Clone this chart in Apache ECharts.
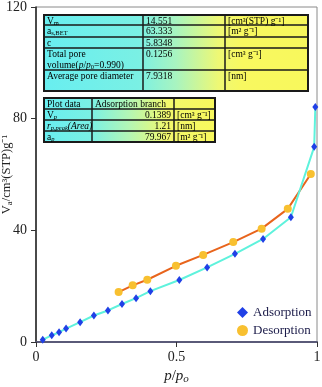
<!DOCTYPE html>
<html>
<head>
<meta charset="utf-8">
<script src="https://cdn.jsdelivr.net/npm/echarts@6/dist/echarts.min.js"></script>
<style>
  html, body { margin: 0; padding: 0; background: #fff; }
  #main { width: 322px; height: 387px; }
</style>
</head>
<body>
<div id="main"></div>
<script>
// isotherm data
var adsX = [0.024, 0.056, 0.082, 0.107, 0.157, 0.206, 0.256, 0.306, 0.356, 0.407, 0.510, 0.609, 0.708, 0.808, 0.907, 0.990, 0.994];
var adsY = [0.85, 2.4, 3.5, 4.8, 7.1, 9.5, 11.3, 13.6, 15.7, 18.2, 22.2, 26.7, 31.6, 36.9, 44.7, 69.9, 84.2];
var desX = [0.294, 0.344, 0.396, 0.498, 0.595, 0.702, 0.803, 0.896, 0.978];
var desY = [17.9, 20.3, 22.3, 27.3, 31.2, 35.8, 40.6, 47.7, 60.2];

// table contents
var betLabels = ['V{s|m}', 'a{s|s,BET}', 'c', 'Total pore\nvolume({i|p}/{i|p}{s|0}=0.990)', 'Average pore diameter'];
var betValues = ['14.551', '63.333', '5.8348', '0.1256', '7.9318'];
var betUnits = ['[cm³(STP) g⁻¹]', '[m² g⁻¹]', '', '[cm³ g⁻¹]', '[nm]'];

var plotLabels = ['Plot data', 'V{si|p}', '{i|r}{si|p,peak}{i|(Area)}', 'a{si|p}'];
var plotValues = ['Adsorption branch', '0.1389', '1.21', '79.967'];
var plotUnits = ['', '[cm³ g⁻¹]', '[nm]', '[m² g⁻¹]'];

var FONT = '"Liberation Serif", "Times New Roman", serif';

function pairs(xs, ys) {
  return xs.map(function (x, i) { return [x, ys[i]]; });
}

var cellRich = {
  s: { fontSize: 6.5, fontFamily: FONT, verticalAlign: 'bottom', lineHeight: 6, fill: '#000' },
  si: { fontSize: 6.5, fontFamily: FONT, fontStyle: 'italic', verticalAlign: 'bottom', lineHeight: 6, fill: '#000' },
  i: { fontSize: 9.5, fontFamily: FONT, fontStyle: 'italic', lineHeight: 11, fill: '#000' }
};

function makeTable(colX, rowY, cols, stops, rightAlignCol) {
  var kids = [];
  var x0 = colX[0], x1 = colX[colX.length - 1];
  var y0 = rowY[0], y1 = rowY[rowY.length - 1];
  kids.push({
    type: 'rect',
    shape: { x: x0, y: y0, width: x1 - x0, height: y1 - y0 },
    style: {
      fill: { type: 'linear', x: 0, y: 0, x2: 1, y2: 0, colorStops: stops },
      stroke: '#1a1a1a', lineWidth: 2
    }
  });
  for (var r = 1; r < rowY.length - 1; r++) {
    kids.push({ type: 'line', shape: { x1: x0, y1: rowY[r], x2: x1, y2: rowY[r] }, style: { stroke: '#1a1a1a', lineWidth: 1.5 } });
  }
  for (var c = 1; c < colX.length - 1; c++) {
    kids.push({ type: 'line', shape: { x1: colX[c], y1: y0, x2: colX[c], y2: y1 }, style: { stroke: '#1a1a1a', lineWidth: 1.5 } });
  }
  cols.forEach(function (col, ci) {
    col.forEach(function (txt, ri) {
      if (!txt) return;
      var right = rightAlignCol === ci && ri > 0;
      kids.push({
        type: 'text',
        x: right ? colX[ci + 1] - 3 : colX[ci] + 3,
        y: rowY[ri] + 0.5,
        style: {
          text: txt,
          align: right ? 'right' : 'left',
          verticalAlign: 'top',
          fontSize: 9.5,
          fontFamily: FONT,
          lineHeight: 11,
          fill: '#000',
          rich: cellRich
        }
      });
    });
  });
  return { type: 'group', children: kids, z: 10 };
}

var table1 = makeTable(
  [44, 143, 225, 308],
  [15, 25, 37, 48, 70, 91],
  [betLabels, betValues, betUnits],
  [
    { offset: 0, color: '#68eef0' }, { offset: 0.36, color: '#7af0e4' },
    { offset: 0.5, color: '#a8f4c0' }, { offset: 0.66, color: '#eef874' },
    { offset: 0.75, color: '#f8f860' }, { offset: 1, color: '#f8f85c' }
  ],
  -1
);

var table2 = makeTable(
  [44, 92, 174, 215],
  [98, 109, 120, 131, 142],
  [plotLabels, plotValues, plotUnits],
  [
    { offset: 0, color: '#68eef0' }, { offset: 0.28, color: '#7af0e4' },
    { offset: 0.5, color: '#b4f6b4' }, { offset: 0.72, color: '#f2f86c' },
    { offset: 1, color: '#f8f85c' }
  ],
  1
);

var chart = echarts.init(document.getElementById('main'));
chart.setOption({
  animation: false,
  textStyle: { fontFamily: FONT },
  grid: {
    left: 36, right: 5, top: 7, bottom: 45,
    outerBoundsMode: 'none',
    containLabel: false,
    show: true, borderColor: '#8a8a8a', borderWidth: 1
  },
  xAxis: {
    type: 'value', min: 0, max: 1, interval: 0.5,
    splitLine: { show: false },
    axisLine: { lineStyle: { color: '#5a5a78', width: 2 } },
    axisTick: { show: true, length: 5, lineStyle: { color: '#333' } },
    axisLabel: { fontSize: 14, color: '#222', fontFamily: FONT, margin: 8 },
    name: '{i|p}{n|/}{i|p}{s|o}',
    nameLocation: 'middle',
    nameGap: 25,
    nameMoveOverlap: false,
    nameTextStyle: {
      rich: {
        i: { fontSize: 15, fontStyle: 'italic', fontFamily: FONT, color: '#222', lineHeight: 18 },
        n: { fontSize: 15, fontFamily: FONT, color: '#222', lineHeight: 18 },
        s: { fontSize: 11, fontStyle: 'italic', fontFamily: FONT, color: '#222', verticalAlign: 'bottom', lineHeight: 10 }
      }
    }
  },
  yAxis: {
    type: 'value', min: 0, max: 120, interval: 40,
    splitLine: { show: false },
    axisLine: { show: true, lineStyle: { color: '#222', width: 1.5 } },
    axisTick: { show: true, length: 5, lineStyle: { color: '#333' } },
    axisLabel: { fontSize: 14, color: '#222', fontFamily: FONT, margin: 9 },
    name: '{n|V}{s|a}{n|/cm³(STP)g⁻¹}',
    nameLocation: 'middle',
    nameGap: 22,
    nameMoveOverlap: false,
    nameTextStyle: {
      rich: {
        n: { fontSize: 12.5, fontFamily: FONT, color: '#222', lineHeight: 15 },
        s: { fontSize: 9, fontFamily: FONT, color: '#222', verticalAlign: 'bottom', lineHeight: 8 }
      }
    }
  },
  legend: {
    orient: 'vertical',
    left: 237, top: 306, padding: 0,
    itemWidth: 11, itemHeight: 11, itemGap: 5,
    textStyle: { fontSize: 13, color: '#1a1a48', fontFamily: FONT },
    data: [
      { name: 'Adsorption', icon: 'diamond' },
      { name: 'Desorption', icon: 'circle' }
    ]
  },
  graphic: [table1, table2],
  series: [
    {
      name: 'Adsorption', type: 'line',
      data: pairs(adsX, adsY),
      symbol: 'diamond', symbolSize: [6, 8],
      lineStyle: { color: '#5ef2dc', width: 2 },
      itemStyle: { color: '#2040e6' },
      z: 3
    },
    {
      name: 'Desorption', type: 'line',
      data: pairs(desX, desY),
      symbol: 'circle', symbolSize: 8,
      lineStyle: { color: '#e8641c', width: 2 },
      itemStyle: { color: '#f8c030' },
      z: 2
    }
  ]
});
</script>
</body>
</html>
